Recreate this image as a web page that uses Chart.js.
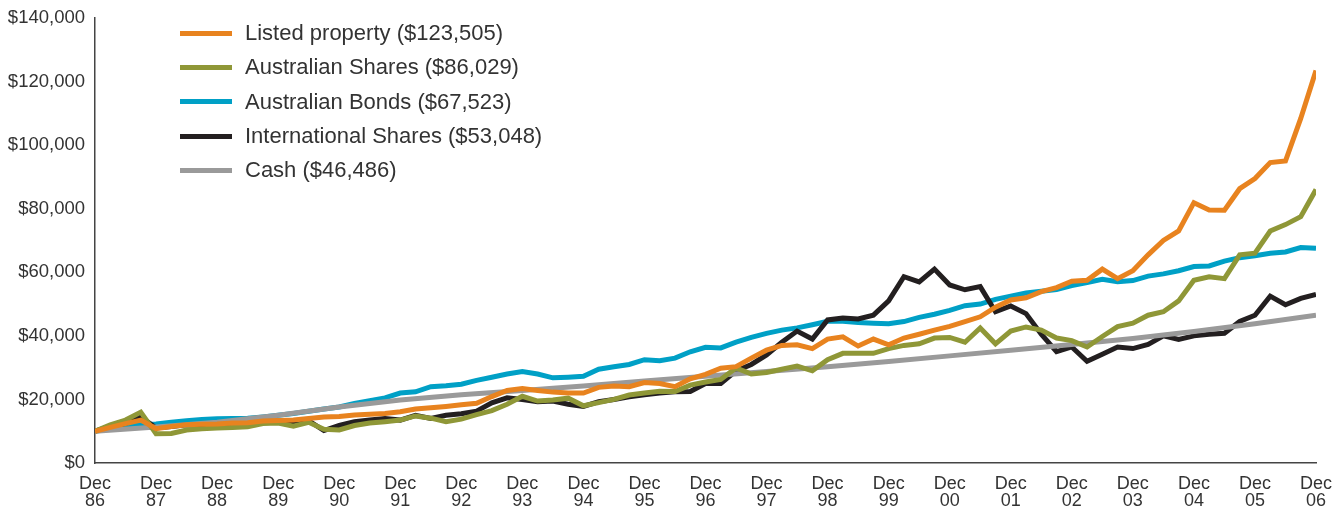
<!DOCTYPE html>
<html>
<head>
<meta charset="utf-8">
<script src="https://cdn.jsdelivr.net/npm/chart.js@4/dist/chart.umd.min.js"></script>
<style>
  body { margin: 0; background: #fff; }
  #wrap { position: relative; width: 1343px; height: 510px; }
  #legend { position: absolute; left: 180px; top: 16px; font-family: 'Liberation Sans', Arial, sans-serif; font-size: 22px; color: #333; }
  .row { display: flex; align-items: center; height: 34.3px; }
  .swatch { width: 52px; height: 5px; margin-right: 13px; }
</style>
</head>
<body>
<div id="wrap">
  <canvas id="chart" width="1343" height="510"></canvas>
  <div id="legend"></div>
</div>
<script>
// growth of $10,000 invested Dec 86, values in $'000
// quarterly: Dec 86, Mar 87, Jun 87, Sep 87, Dec 87 ... Dec 06
const years = ['86','87','88','89','90','91','92','93','94','95','96','97','98','99','00','01','02','03','04','05','06']

const listedProperty = [10.0, 11.2, 12.4, 13.5, 10.8, 11.5, 12.0, 12.2, 12.3, 12.6, 12.7, 13.2, 13.4, 13.5, 14.0, 14.5,
  14.6, 15.1, 15.3, 15.6, 16.1, 17.0, 17.4, 17.8, 18.3, 18.8, 20.9, 22.8, 23.4, 22.8, 22.3, 22.0,
  22.0, 23.8, 24.2, 24.0, 25.3, 25.0, 24.0, 26.5, 27.9, 29.8, 30.3, 33.0, 35.5, 37.0, 37.2, 36.0,
  39.0, 39.7, 36.8, 39.0, 37.2, 39.3, 40.5, 41.8, 43.0, 44.5, 46.0, 49.0, 51.3, 52.0, 53.9, 55.2,
  57.2, 57.5, 61.0, 58.0, 60.5, 65.5, 70.0, 73.0, 81.9, 79.6, 79.5, 86.3, 89.5, 94.5, 95.0, 108.4, 123.505]

const ausShares = [10.0, 12.0, 13.5, 16.0, 9.2, 9.3, 10.4, 10.8, 11.0, 11.2, 11.4, 12.4, 12.6, 11.6, 12.8, 10.6,
  10.4, 11.8, 12.6, 13.0, 13.5, 14.8, 14.1, 13.0, 13.8, 15.2, 16.5, 18.5, 21.0, 19.5, 19.8, 20.4,
  18.0, 19.0, 20.0, 21.4, 22.0, 22.6, 22.5, 24.5, 25.5, 26.3, 29.9, 28.0, 28.5, 29.5, 30.5, 29.0,
  32.5, 34.5, 34.5, 34.5, 36.0, 37.0, 37.5, 39.3, 39.5, 38.0, 42.5, 37.5, 41.5, 42.8, 41.8, 39.3,
  38.5, 36.5, 39.8, 42.9, 44.0, 46.5, 47.6, 51.0, 57.5, 58.6, 58.0, 65.5, 66.0, 73.0, 75.0, 77.5, 86.029]

const ausBonds = [10.0, 10.8, 11.4, 12.0, 12.3, 12.8, 13.3, 13.7, 13.9, 14.0, 14.1, 14.5, 15.0, 15.6, 16.3, 17.0,
  17.6, 18.7, 19.6, 20.5, 22.0, 22.4, 24.0, 24.3, 24.8, 26.0, 27.0, 28.0, 28.8, 28.0, 26.8, 27.0,
  27.3, 29.5, 30.3, 31.0, 32.5, 32.2, 33.0, 35.0, 36.4, 36.2, 38.0, 39.5, 40.8, 41.8, 42.5, 43.5,
  44.6, 44.6, 44.2, 44.0, 43.8, 44.5, 45.8, 46.8, 48.0, 49.5, 50.0, 51.5, 52.5, 53.5, 54.0, 54.6,
  55.8, 56.8, 57.8, 57.0, 57.4, 58.8, 59.5, 60.5, 61.8, 62.0, 63.5, 64.6, 65.2, 66.0, 66.4, 67.8, 67.523]

const intShares = [10.0, 11.5, 12.5, 14.5, 11.0, 11.5, 12.0, 11.8, 12.0, 12.5, 12.8, 13.0, 13.2, 12.8, 13.3, 10.2,
  11.8, 13.0, 13.5, 14.0, 13.5, 15.0, 14.0, 15.0, 15.5, 16.3, 18.9, 20.5, 20.0, 19.3, 19.5, 18.5,
  17.8, 19.3, 20.0, 20.8, 21.5, 22.0, 22.4, 22.5, 25.0, 25.0, 29.0, 31.0, 34.0, 38.0, 41.5, 39.0,
  45.0, 45.6, 45.3, 46.5, 51.0, 58.6, 57.0, 61.0, 56.0, 54.5, 55.5, 47.6, 49.4, 47.0, 40.5, 35.0,
  36.5, 32.0, 34.2, 36.5, 36.0, 37.3, 40.0, 38.9, 40.0, 40.5, 40.8, 44.5, 46.5, 52.5, 49.8, 51.8, 53.048]

// cash is smooth, read once a year at each Dec
const cash = [10.0, 11.3, 12.8, 15.0, 17.6, 19.8, 21.5, 22.8, 24.2, 25.8, 27.3, 28.8, 30.3, 31.9, 33.7, 35.5,
  37.3, 39.2, 41.4, 43.8, 46.486]

const names = ['Listed property ($123,505)', 'Australian Shares ($86,029)', 'Australian Bonds ($67,523)',
  'International Shares ($53,048)', 'Cash ($46,486)']
const colors = ['#E8831F', '#8F9737', '#00A0C6', '#231F20', '#9A9A9A']

function quarterly(arr){
    return arr.map((v, i) => ({x: i / 4, y: v * 1000}))
}
function yearly(arr){
    return arr.map((v, i) => ({x: i, y: v * 1000}))
}

const series = [quarterly(listedProperty), quarterly(ausShares), quarterly(ausBonds), quarterly(intShares), yearly(cash)]
// lower order is painted on top
const drawOrder = [0, 1, 4, 3, 2]

const datasets = series.map((d, i) => ({
    label: names[i],
    data: d,
    borderColor: colors[i],
    backgroundColor: colors[i],
    borderWidth: 5,
    pointRadius: 0,
    tension: 0,
    order: drawOrder[i]
}))

const fontFamily = "'Liberation Sans', Arial, sans-serif"

new Chart('chart', {
    type: 'line',
    data: {datasets: datasets},
    options: {
        responsive: false,
        animation: false,
        devicePixelRatio: 1,
        layout: {padding: {top: 18, right: 27, left: 0, bottom: 0}},
        plugins: {legend: {display: false}, tooltip: {enabled: false}},
        scales: {
            x: {
                type: 'linear',
                min: 0,
                max: 20,
                grid: {display: false},
                border: {display: true, color: '#444', width: 1.5},
                afterFit: (scale) => { scale.height = 47 },
                ticks: {
                    stepSize: 1,
                    autoSkip: false,
                    maxRotation: 0,
                    padding: 4,
                    color: '#333',
                    font: {family: fontFamily, size: 18, lineHeight: 0.98},
                    callback: (v) => ['Dec', years[v]]
                }
            },
            y: {
                min: 0,
                max: 140000,
                grid: {display: false},
                border: {display: true, color: '#444', width: 1.5},
                afterFit: (scale) => { scale.width = 95 },
                ticks: {
                    stepSize: 20000,
                    padding: 2,
                    color: '#333',
                    font: {family: fontFamily, size: 18.5},
                    callback: (v) => '$' + v.toLocaleString('en-US')
                }
            }
        }
    }
})

// legend as html rows
const legend = document.getElementById('legend')
names.forEach((n, i) => {
    const row = document.createElement('div')
    row.className = 'row'
    const sw = document.createElement('span')
    sw.className = 'swatch'
    sw.style.background = colors[i]
    const txt = document.createElement('span')
    txt.textContent = n
    row.appendChild(sw)
    row.appendChild(txt)
    legend.appendChild(row)
})
</script>
</body>
</html>
